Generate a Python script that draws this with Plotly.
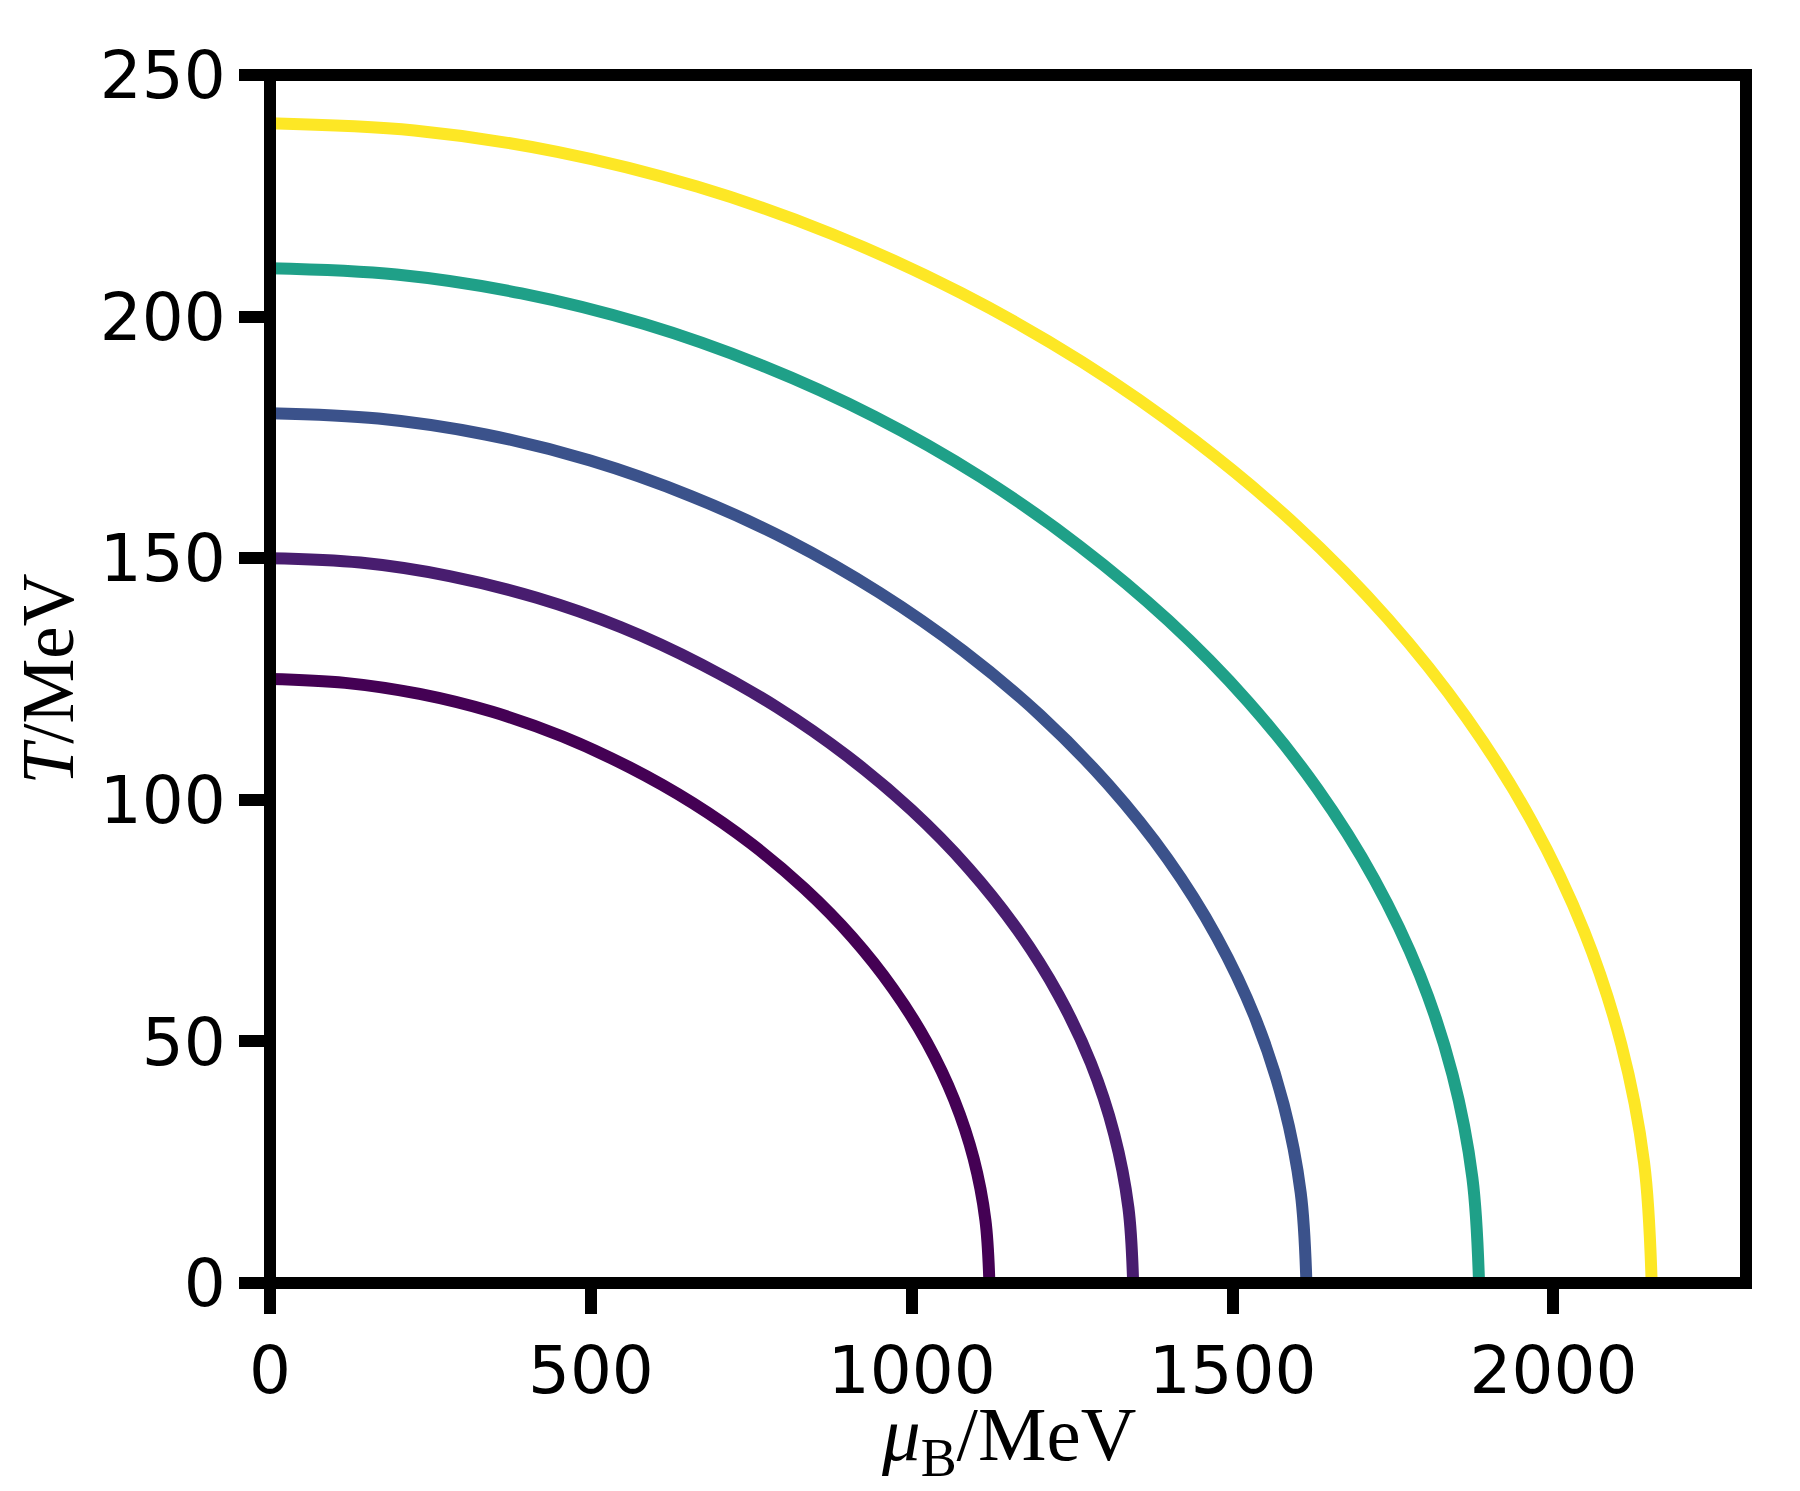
import plotly.graph_objects as go

# Values (mu_B in MeV, T in MeV)
mu_125 = [0, 117.1, 233.1, 346.4, 455.9, 560.5, 658.9, 750.1, 833.0, 906.9, 970.8, 1024.0, 1066.2, 1096.5, 1114.8, 1121]
T_125 = [125, 124.2, 121.9, 118.2, 113.1, 106.7, 99.3, 90.9, 81.6, 71.6, 60.9, 49.7, 37.9, 25.7, 13.0, 0]

mu_150 = [0, 140.6, 279.6, 415.6, 547.0, 672.5, 790.6, 899.9, 999.5, 1088.1, 1164.8, 1228.7, 1279.2, 1315.5, 1337.6, 1345]
T_150 = [150, 149.1, 146.3, 141.8, 135.7, 128.0, 119.1, 109.0, 97.9, 85.9, 73.1, 59.6, 45.5, 30.8, 15.6, 0]

mu_180 = [0, 168.8, 335.8, 499.0, 656.8, 807.5, 949.3, 1080.6, 1200.1, 1306.5, 1398.6, 1475.3, 1536.0, 1579.6, 1606.1, 1615]
T_180 = [180, 178.9, 175.6, 170.2, 162.8, 153.7, 142.9, 130.8, 117.5, 103.1, 87.8, 71.6, 54.6, 36.9, 18.7, 0]

mu_210 = [0, 196.9, 391.7, 582.2, 766.2, 942.0, 1107.4, 1260.6, 1400.0, 1524.2, 1631.5, 1721.0, 1791.9, 1842.7, 1873.6, 1884]
T_210 = [210, 208.7, 204.8, 198.5, 189.9, 179.3, 166.8, 152.6, 137.1, 120.3, 102.4, 83.5, 63.7, 43.1, 21.8, 0]

mu_240 = [0, 225.0, 447.6, 665.3, 875.6, 1076.5, 1265.6, 1440.6, 1599.9, 1741.8, 1864.5, 1966.8, 2047.7, 2105.8, 2141.2, 2153]
T_240 = [240, 238.5, 234.1, 226.9, 217.1, 204.9, 190.6, 174.4, 156.7, 137.5, 117.0, 95.4, 72.8, 49.3, 24.9, 0]

series = [
    ("T0 = 125 MeV", mu_125, T_125, "#440154"),
    ("T0 = 150 MeV", mu_150, T_150, "#481d6f"),
    ("T0 = 180 MeV", mu_180, T_180, "#3b528b"),
    ("T0 = 210 MeV", mu_210, T_210, "#1fa088"),
    ("T0 = 240 MeV", mu_240, T_240, "#fde725"),
]

x_ticks = [0, 500, 1000, 1500, 2000]
y_ticks = [0, 50, 100, 150, 200, 250]
x_title = "<i>μ</i><sub>B</sub>/MeV"
y_title = "<i>T</i>/MeV"

fig = go.Figure()
for name, mu, T, color in series:
    fig.add_trace(go.Scatter(
        x=mu, y=T, mode="lines", name=name,
        line=dict(color=color, width=12, shape="spline", smoothing=1.0, simplify=False),
        showlegend=False,
    ))

tick_font = dict(family="DejaVu Sans", size=66, color="black")

# the page body has an 8px default margin: figure is 8px smaller and margins compensate
fig.update_layout(
    width=1792, height=1483,
    margin=dict(l=262, r=54, t=67, b=208),
    paper_bgcolor="white", plot_bgcolor="white",
    xaxis=dict(
        range=[0, 2300], tickvals=x_ticks, ticktext=[str(v) for v in x_ticks],
        showgrid=False, zeroline=False, showline=False,
        ticks="outside", ticklen=30, tickwidth=12, tickcolor="black",
        tickfont=tick_font,
    ),
    yaxis=dict(
        range=[0, 250], tickvals=y_ticks, ticktext=[str(v) for v in y_ticks],
        showgrid=False, zeroline=False, showline=False,
        ticks="outside", ticklen=30, tickwidth=12, tickcolor="black",
        tickfont=tick_font,
        title=dict(text=y_title,
                   font=dict(family="Liberation Serif", size=73, color="black")),
    ),
    shapes=[dict(
        type="rect", xref="paper", yref="paper", x0=0, x1=1, y0=0, y1=1,
        line=dict(color="black", width=12), fillcolor="rgba(0,0,0,0)", layer="above",
    )],
    annotations=[
        dict(text=x_title, xref="paper", yref="paper", x=0.5, y=-0.1714,
             xanchor="center", yanchor="bottom", showarrow=False,
             font=dict(family="Liberation Serif", size=77, color="black")),
    ],
)

fig.write_html("out.html")
